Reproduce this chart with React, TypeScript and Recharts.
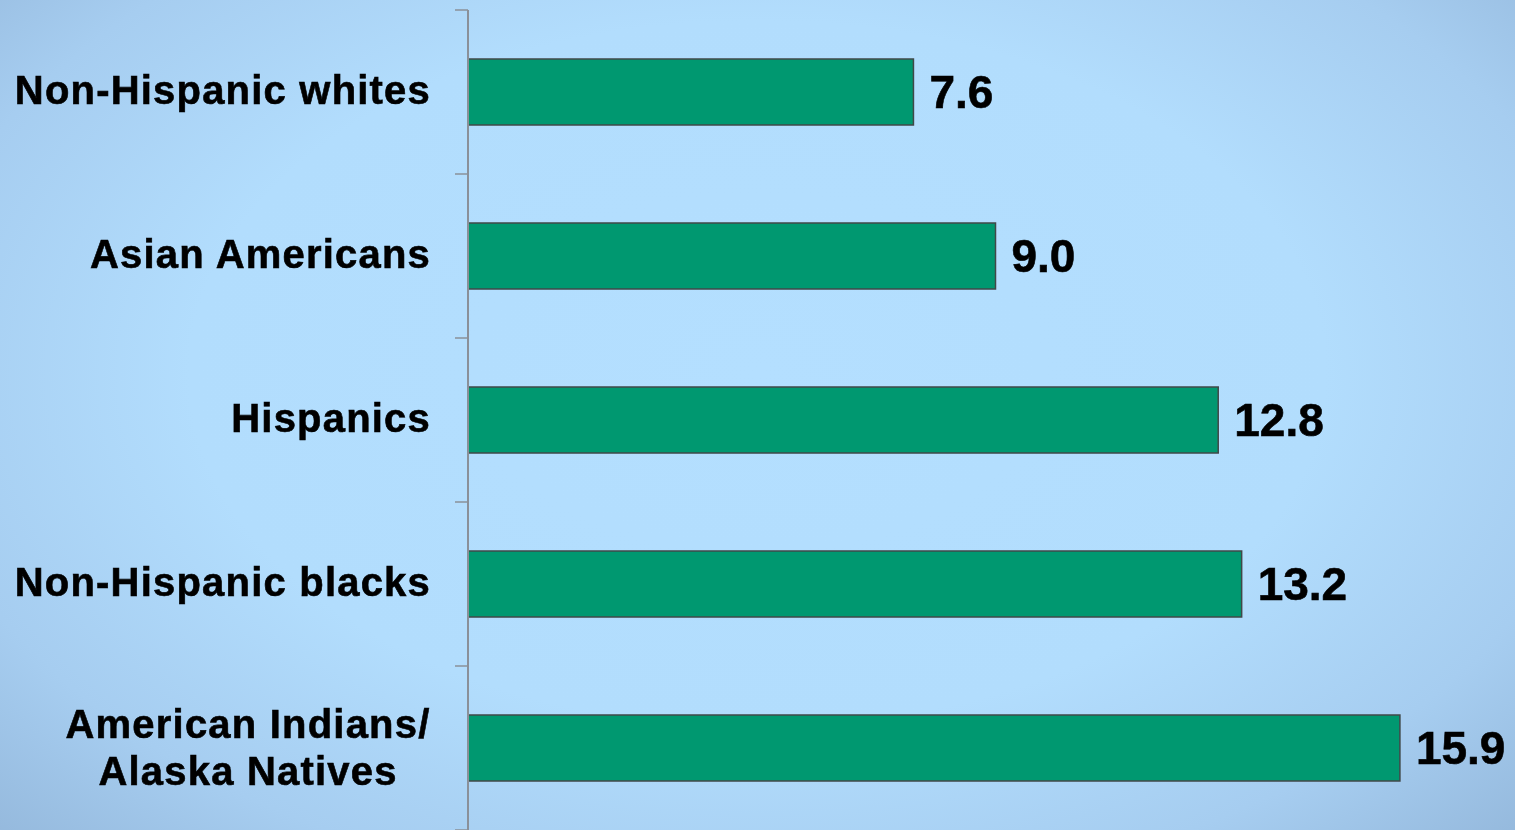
import React from "react";
import { BarChart, Bar, XAxis, YAxis, LabelList } from "recharts";

const categories: string[] = [
  "Non-Hispanic whites",
  "Asian Americans",
  "Hispanics",
  "Non-Hispanic blacks",
  "American Indians/\nAlaska Natives",
];
const values: number[] = [7.6, 9.0, 12.8, 13.2, 15.9];
const xDomain: [number, number] = [0, 18];

const data = categories.map((c, i) => ({ name: c, value: values[i] }));

const CHART_W = 1523;
const CHART_H = 830;
const TOP = 10;
const BAND = (CHART_H - TOP) / categories.length;
const FONT = "'Liberation Sans', Arial, Helvetica, sans-serif";

const CategoryTick = (props: any) => {
  const { x, y, payload, index } = props;
  const lines: string[] = String(payload.value).split("\n");
  const tickColor = "#8a9099";
  const common = {
    fontFamily: FONT,
    fontWeight: 700,
    fontSize: 40,
    letterSpacing: 1.2,
    fill: "#000",
    stroke: "#000",
    strokeWidth: 0.6,
  };
  return (
    <g>
      <line x1={x - 13} x2={x} y1={y - BAND / 2} y2={y - BAND / 2} stroke={tickColor} strokeWidth={1.5} />
      {index === categories.length - 1 && (
        <line x1={x - 13} x2={x} y1={y + BAND / 2} y2={y + BAND / 2} stroke={tickColor} strokeWidth={1.5} />
      )}
      {lines.length === 1 ? (
        <text x={x - 37} y={y + 12} textAnchor="end" {...common}>
          {lines[0]}
        </text>
      ) : (
        lines.map((ln, i) => (
          <text key={i} x={x - 220} y={y - 10 + i * 47} textAnchor="middle" {...common}>
            {ln}
          </text>
        ))
      )}
    </g>
  );
};

export default function App() {
  return (
    <div
      style={{
        position: "fixed",
        left: 0,
        top: 0,
        width: 1515,
        height: 830,
        overflow: "hidden",
        background:
          "radial-gradient(ellipse 75% 85% at 50% 45%, #b4dfff 0%, #b2ddfd 50%, #a6cdf0 75%, #8fb2d6 100%)",
      }}
    >
      <BarChart
        width={CHART_W}
        height={CHART_H}
        data={data}
        layout="vertical"
        margin={{ top: TOP, right: 0, bottom: 0, left: 0 }}
      >
        <XAxis type="number" domain={xDomain} hide />
        <YAxis
          type="category"
          dataKey="name"
          width={468}
          axisLine={{ stroke: "#8a9099", strokeWidth: 2 }}
          tickLine={false}
          tickSize={0}
          tickMargin={0}
          tick={<CategoryTick />}
          interval={0}
        />
        <Bar
          dataKey="value"
          barSize={66}
          fill="#009870"
          stroke="#404848"
          strokeWidth={1.5}
          isAnimationActive={false}
        >
          <LabelList
            dataKey="value"
            position="right"
            offset={16}
            formatter={(v: any) => Number(v).toFixed(1)}
            style={{ fontFamily: FONT, fontWeight: 700, fontSize: 46, fill: "#000", stroke: "#000", strokeWidth: 0.6 }}
          />
        </Bar>
      </BarChart>
    </div>
  );
}
